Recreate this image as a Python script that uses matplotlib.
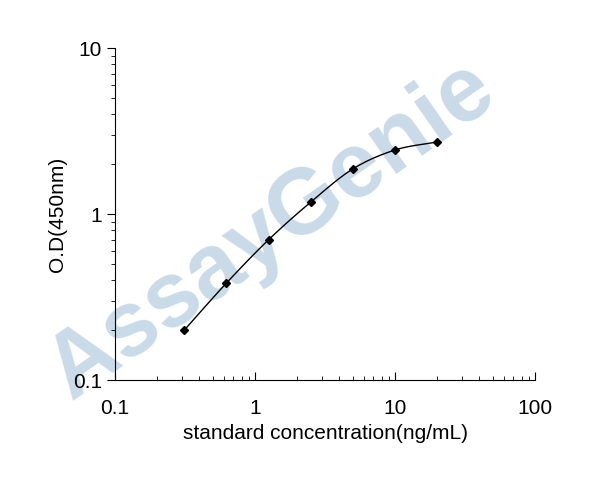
import numpy as np
import matplotlib
matplotlib.use("Agg")
import matplotlib.pyplot as plt

plt.rcParams["font.family"] = ["Liberation Sans", "DejaVu Sans"]

conc = [0.3125, 0.625, 1.25, 2.5, 5, 10, 20]
od = [0.20, 0.384, 0.70, 1.18, 1.87, 2.43, 2.72]


def catmull_rom(x, y, n=20):
    # smooth line through the points, in log-log space
    px = np.log10(x)
    py = np.log10(y)
    px = np.concatenate([[2 * px[0] - px[1]], px, [2 * px[-1] - px[-2]]])
    py = np.concatenate([[2 * py[0] - py[1]], py, [2 * py[-1] - py[-2]]])
    xs, ys = [], []
    t = np.linspace(0, 1, n)
    for i in range(1, len(px) - 2):
        for arr, out in ((px, xs), (py, ys)):
            p0, p1, p2, p3 = arr[i - 1], arr[i], arr[i + 1], arr[i + 2]
            out.extend(0.5 * (2 * p1 + (-p0 + p2) * t + (2 * p0 - 5 * p1 + 4 * p2 - p3) * t ** 2
                              + (-p0 + 3 * p1 - 3 * p2 + p3) * t ** 3))
    return 10 ** np.array(xs), 10 ** np.array(ys)


fig = plt.figure(figsize=(5.9, 5.0), dpi=100)
ax = fig.add_axes([0.195, 0.24, 0.712, 0.664])
ax.set_zorder(2)

fig.text(0.46, 0.54, "AssayGenie", fontsize=66, fontweight="bold", color="#c9dbe8",
         rotation=35, ha="center", va="center", zorder=0)

sx, sy = catmull_rom(conc, od)
ax.plot(sx, sy, color="black", lw=1)
ax.plot(conc, od, "D", color="black", ms=4)

ax.set_xscale("log")
ax.set_yscale("log")
ax.set_xlim(0.1, 100)
ax.set_ylim(0.1, 10)
ax.set_xticks([0.1, 1, 10, 100])
ax.set_xticklabels(["0.1", "1", "10", "100"])
ax.set_yticks([0.1, 1, 10])
ax.set_yticklabels(["0.1", "1", "10"])
ax.spines["top"].set_visible(False)
ax.spines["right"].set_visible(False)
ax.tick_params(axis="x", which="both", direction="in", labelsize=15, pad=14)
ax.tick_params(axis="y", which="both", direction="out", labelsize=15)
ax.tick_params(which="major", length=6)
ax.tick_params(which="minor", length=3)
ax.patch.set_alpha(0)
ax.set_xlabel("standard concentration(ng/mL)", fontsize=15)
ax.set_ylabel("O.D(450nm)", fontsize=15)

fig.savefig("out.png")
